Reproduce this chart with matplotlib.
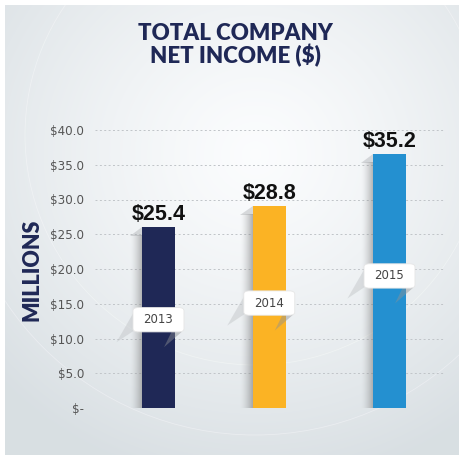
import numpy as np
import matplotlib.pyplot as plt
from matplotlib.patches import FancyBboxPatch, Polygon

years = ["2013", "2014", "2015"]
bar_values = [26.0, 29.0, 36.5]
value_labels = ["$25.4", "$28.8", "$35.2"]
tick_values = [0, 5, 10, 15, 20, 25, 30, 35, 40]
tick_labels = ["$-", "$5.0", "$10.0", "$15.0", "$20.0", "$25.0", "$30.0", "$35.0", "$40.0"]
year_label_y = [12.7, 15.1, 19.0]
bar_colors = ["#1f2856", "#fbb324", "#2490d0"]

xpos = [0.0, 1.0, 2.085]
NAVY = "#1f2856"

fig = plt.figure(figsize=(4.6, 4.55), dpi=100)
fig.patch.set_facecolor("white")

# background panel with radial gradient
bg = fig.add_axes([5/460, 0, 455/460, 450/455])
bg.set_axis_off()
H, W = 450, 455
yy, xx = np.mgrid[0:H, 0:W]
cx, cy = 250, 300
r = np.sqrt(((xx - cx) / 1.05) ** 2 + ((yy - cy) / 1.0) ** 2)
t = np.clip(r / 330, 0, 1) ** 1.3
c_in = np.array([0.985, 0.99, 0.995])
c_out = np.array([0.85, 0.875, 0.89])
img = c_in[None, None, :] * (1 - t[..., None]) + c_out[None, None, :] * t[..., None]
bg.imshow(img, origin="lower", extent=[0, W, 0, H], aspect="auto")
bg.set_xlim(0, W)
bg.set_ylim(0, H)
for rad in (230, 300):
    circ = plt.Circle((cx, cy + 20), rad, fill=False, ec="white", lw=0.6, alpha=0.35)
    bg.add_patch(circ)

ax = fig.add_axes([95/460, (455-408)/455, 350/460, 278/455])
ax.set_facecolor("none")
ax.set_xlim(-0.573, 2.586)
ax.set_ylim(0, 40)
for s in ax.spines.values():
    s.set_visible(False)
ax.set_yticks(tick_values)
ax.set_yticklabels(tick_labels, color="#555555", fontsize=8.6, family="DejaVu Sans")
ax.tick_params(axis="y", length=0, pad=8)
ax.set_xticks([])
ax.yaxis.grid(True, linestyle=(0, (2, 2.5)), color="#c0c4c8", lw=0.7)
ax.set_axisbelow(True)

bw = 0.30
for x, v, lab, c, yr, yl in zip(xpos, bar_values, value_labels, bar_colors, years, year_label_y):
    # shadow gradient on the left of the bar
    sw = 0.11
    grad = np.linspace(0, 1, 50)[None, :]
    shade = np.zeros((1, 50, 4))
    shade[..., :3] = 0.45
    shade[..., 3] = grad ** 1.5 * 0.55
    ax.imshow(shade, extent=[x - bw/2 - sw, x - bw/2, 0, v - 1.2], aspect="auto",
              zorder=1, interpolation="bilinear")
    tri = Polygon([[x - bw/2 - sw, v - 1.2], [x - bw/2, v - 1.2], [x - bw/2, v]],
                  closed=True, fc="#9a9da1", ec="none", alpha=0.35, zorder=1)
    ax.add_patch(tri)
    ax.bar(x, v, width=bw, color=c, zorder=2)
    ax.text(x, v + 0.35, lab, ha="center", va="bottom", fontsize=15.5,
            fontweight="bold", family="Liberation Sans", color="#111111", zorder=4)
    # year tag
    bwid, bh = 0.46, 3.5
    shadow = Polygon([[x + bwid/2 - 0.02, yl - bh/2], [x + bwid/2 - 0.02, yl + bh/2 - 0.5],
                      [x + bwid/2 - 0.18, yl - bh/2 - 2.2]], closed=True,
                     fc="#8d9094", ec="none", alpha=0.45, zorder=3)
    ax.add_patch(shadow)
    shadow2 = Polygon([[x - bwid/2 + 0.02, yl + bh/2 - 0.3], [x - bwid/2 + 0.02, yl - bh/2 + 0.3],
                       [x - bwid/2 - 0.15, yl - bh/2 - 1.5]], closed=True,
                      fc="#c4c7ca", ec="none", alpha=0.5, zorder=1.5)
    ax.add_patch(shadow2)
    box = FancyBboxPatch((x - bwid/2, yl - bh/2), bwid, bh,
                         boxstyle="round,pad=0,rounding_size=0.05",
                         mutation_aspect=bh / bwid * 1.2,
                         fc="white", ec="#e6e6e6", lw=0.6, zorder=3.5)
    ax.add_patch(box)
    ax.text(x, yl, yr, ha="center", va="center", fontsize=8.5,
            family="DejaVu Sans", color="#444444", zorder=5)

fig.text(235/460, 1 - 45/455, "TOTAL COMPANY\nNET INCOME ($)", ha="center", va="center",
         fontsize=16, fontweight="heavy", family="Lato", color=NAVY, linespacing=1.0)
fig.text(32/460, 1 - 270/455, "MILLIONS", ha="center", va="center", rotation=90,
         fontsize=15.5, fontweight="heavy", family="Lato", color=NAVY)

fig.savefig("out.png", dpi=100, facecolor="white")
